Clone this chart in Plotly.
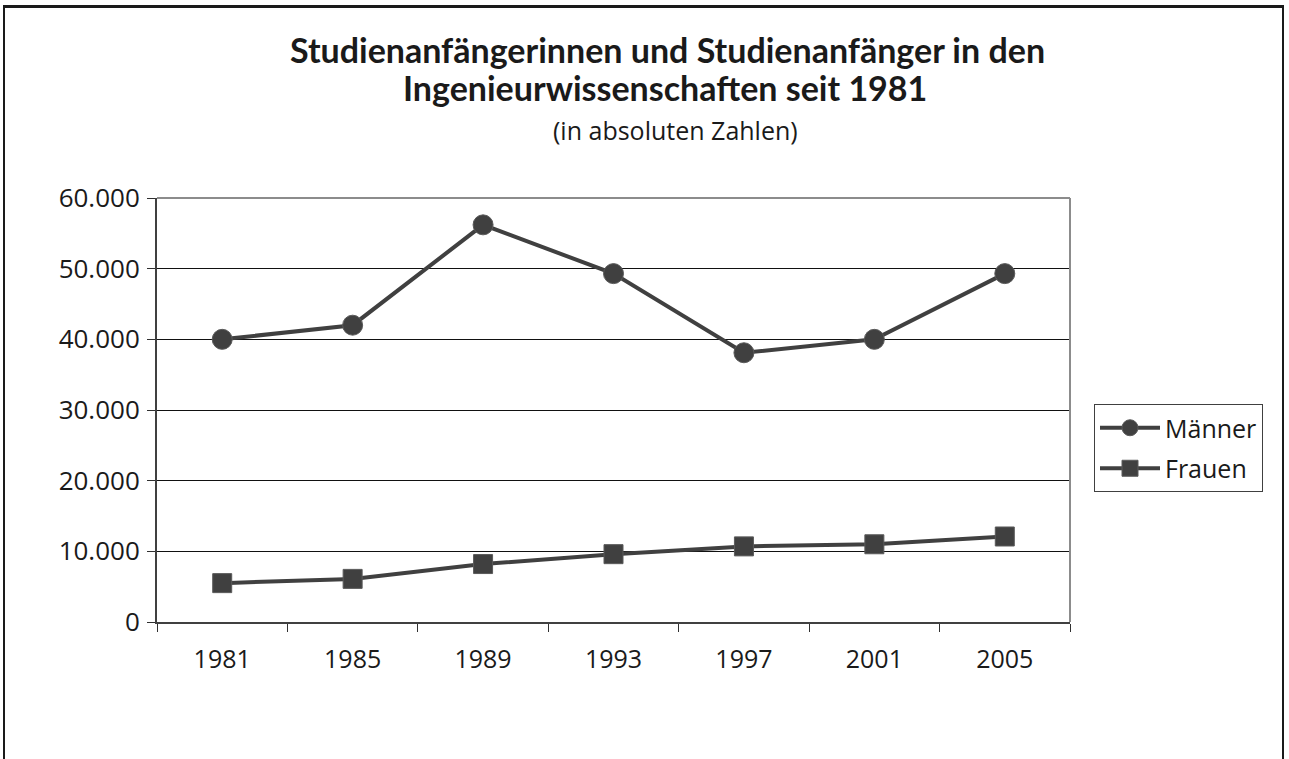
import plotly.graph_objects as go

years = ["1981", "1985", "1989", "1993", "1997", "2001", "2005"]
maenner = [40000, 42000, 56200, 49300, 38100, 40000, 49300]
frauen = [5500, 6100, 8200, 9600, 10700, 11000, 12100]
y_ticks = [0, 10000, 20000, 30000, 40000, 50000, 60000]
y_tick_labels = ["0", "10.000", "20.000", "30.000", "40.000", "50.000", "60.000"]

W, H = 1289, 759
L, R, T, B = 157, 219, 198, 137
pw, ph = W - L - R, H - T - B

def px(x):
    return (x - L) / pw

def py(y):
    return (H - B - y) / ph

line_col = "#404040"
font_body = "Open Sans, Noto Sans, sans-serif"
font_title = "Lato, Open Sans, sans-serif"

fig = go.Figure()
fig.add_trace(go.Scatter(
    x=years, y=maenner, name="Männer", mode="lines+markers", legendgroup="m",
    line=dict(color=line_col, width=4),
    marker=dict(symbol="circle", size=20, color=line_col, line=dict(color="#5a5a5a", width=1)),
))
fig.add_trace(go.Scatter(
    x=years, y=frauen, name="Frauen", mode="lines+markers", legendgroup="f",
    line=dict(color=line_col, width=4),
    marker=dict(symbol="square", size=19, color=line_col, line=dict(color="#5a5a5a", width=1)),
))

fig.update_layout(
    width=W, height=H,
    margin=dict(l=L, r=R, t=T, b=B),
    paper_bgcolor="white", plot_bgcolor="white",
    font=dict(family=font_body, size=25, color="#1a1a1a"),
    showlegend=True,
    legend=dict(
        x=px(1094), y=py(404), xanchor="left", yanchor="top",
        bordercolor="#404040", borderwidth=1, bgcolor="white",
        font=dict(size=25, family=font_body, color="#1a1a1a"),
        itemwidth=60, traceorder="grouped", tracegroupgap=5,
    ),
    xaxis=dict(
        type="category", tickson="boundaries", showgrid=False,
        ticks="outside", ticklen=8, tickcolor="#303030", tickwidth=1,
        showline=True, linecolor="#404040", linewidth=2,
        tickfont=dict(size=25), ticklabelstandoff=14,
        range=[-0.5, 6.5],
    ),
    yaxis=dict(
        range=[0, 60000], tickvals=y_ticks, ticktext=y_tick_labels,
        showgrid=True, gridcolor="#111111", gridwidth=1,
        ticks="outside", ticklen=8, tickcolor="#303030", tickwidth=1,
        showline=True, linecolor="#404040", linewidth=2,
        tickfont=dict(size=26), zeroline=False, ticklabelstandoff=2,
    ),
    shapes=[
        dict(type="line", xref="paper", yref="paper", x0=0, x1=1, y0=1, y1=1,
             line=dict(color="#8c8c8c", width=2), layer="above"),
        dict(type="line", xref="paper", yref="paper", x0=1, x1=1, y0=0, y1=1,
             line=dict(color="#8c8c8c", width=2), layer="above"),
        dict(type="line", xref="paper", yref="paper", x0=px(4), x1=px(4), y0=py(7), y1=py(770),
             line=dict(color="#1a1a1a", width=2)),
        dict(type="line", xref="paper", yref="paper", x0=px(3), x1=px(1284), y0=py(6.5), y1=py(6.5),
             line=dict(color="#1a1a1a", width=3)),
        dict(type="line", xref="paper", yref="paper", x0=px(1283), x1=px(1283), y0=py(7), y1=py(770),
             line=dict(color="#1a1a1a", width=2)),
    ],
    annotations=[
        dict(text="<b>Studienanfängerinnen und Studienanfänger in den</b>",
             xref="paper", yref="paper", x=px(667), y=py(49), xanchor="center", yanchor="middle",
             showarrow=False, font=dict(family=font_title, size=34, color="#1a1a1a")),
        dict(text="<b>Ingenieurwissenschaften seit 1981</b>",
             xref="paper", yref="paper", x=px(665), y=py(88), xanchor="center", yanchor="middle",
             showarrow=False, font=dict(family=font_title, size=34, color="#1a1a1a")),
        dict(text="(in absoluten Zahlen)",
             xref="paper", yref="paper", x=px(675), y=py(130), xanchor="center", yanchor="middle",
             showarrow=False, font=dict(family=font_body, size=25, color="#1a1a1a")),
    ],
)

fig.write_html(
    "out.html",
    config={"displayModeBar": False},
    post_script="document.body.style.margin='0';document.body.style.overflow='hidden';",
)
